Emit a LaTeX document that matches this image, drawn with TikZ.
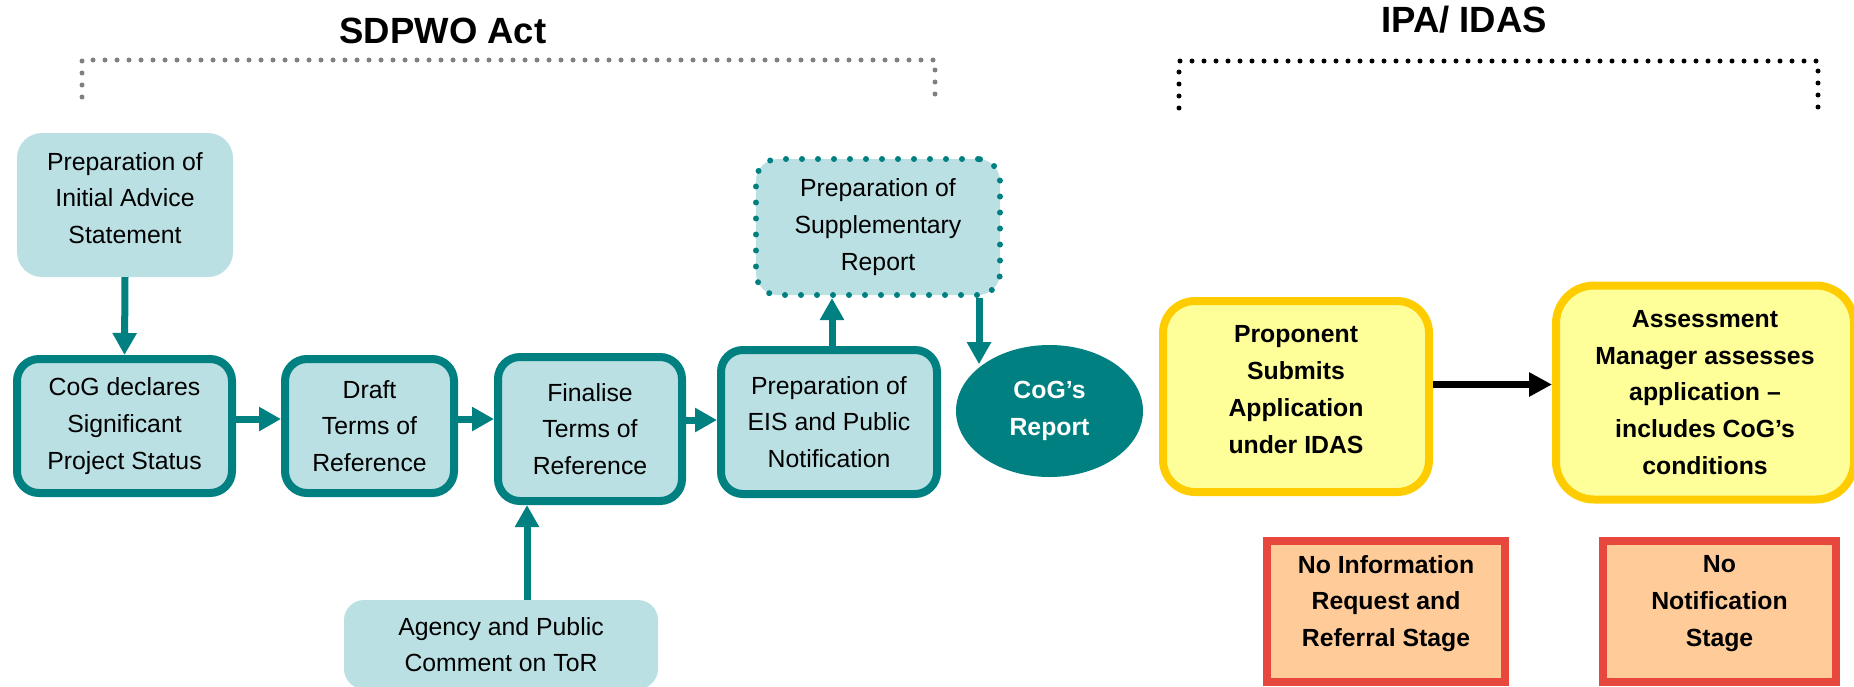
\documentclass[tikz,border=0pt]{standalone}
\usepackage{fontspec}
\setmainfont{Liberation Sans}
\usetikzlibrary{arrows.meta,positioning,shapes.geometric}
\definecolor{tealdark}{HTML}{008080}
\definecolor{tealpale}{HTML}{BBE0E3}
\definecolor{gold}{HTML}{FFCC00}
\definecolor{lemon}{HTML}{FFFF99}
\definecolor{brick}{HTML}{E8473E}
\definecolor{peach}{HTML}{FFCC99}
\definecolor{dotgrey}{HTML}{808080}
\newcommand\stagefont{\fontsize{24.8}{36.7}\selectfont}

\begin{document}
\begin{tikzpicture}[x=1pt,y=-1pt,font=\stagefont,
  pale/.style={fill=tealpale,rounded corners=22pt,align=center,inner sep=0pt},
  stage/.style={pale,draw=tealdark,line width=8pt},
  idas/.style={draw=gold,fill=lemon,line width=8pt,align=center,inner sep=0pt,font=\stagefont\bfseries},
  skipped/.style={draw=brick,fill=peach,line width=8pt,align=center,inner sep=0pt,font=\stagefont\bfseries,text depth=21pt},
  flow/.style={tealdark,line width=7pt,-{Triangle[length=22pt,width=23pt]}},
  bracket/.style={line width=5pt,line cap=round,dash pattern=on 0pt off 12pt}]
\useasboundingbox (0,0) rectangle (1854,686);
% headings and their brackets
\node[font=\fontsize{36.5}{40}\selectfont\bfseries,anchor=base] (sdpwo) at (443,43) {SDPWO Act};
\node[font=\fontsize{36.5}{40}\selectfont\bfseries,anchor=base] (ipa) at (1464,32) {IPA/ IDAS};
\draw[bracket,dotgrey] (82,97) -- (82,60) -- (935,60) -- (935,97);
\draw[bracket,black] (1179,108) -- (1179,61) -- (1818,61) -- (1818,108);
% SDPWO Act steps
\node[pale,rounded corners=25pt,minimum width=216pt,minimum height=144pt,text depth=14pt] (ias) at (125,205)
  {Preparation of\\Initial Advice\\Statement};
\node[stage,minimum width=215pt,minimum height=134pt] (cog) at (124.5,426) {CoG declares\\Significant\\Project Status};
\node[stage,minimum width=169pt,minimum height=134pt] (draft) at (369.5,426) {Draft\\Terms of\\Reference};
\node[stage,minimum width=184pt,minimum height=144pt] (final) at (590,429) {Finalise\\Terms of\\Reference};
\node[stage,minimum width=216pt,minimum height=144pt] (eis) at (829,422) {Preparation of\\EIS and Public\\Notification};
\node[pale,draw=tealdark,line width=6pt,line cap=round,dash pattern=on 0pt off 16pt,
      minimum width=244pt,minimum height=136pt] (supp) at (878,227) {Preparation of\\Supplementary\\Report};
\node[ellipse,fill=tealdark,text=white,font=\stagefont\bfseries,align=center,inner sep=0pt,
      minimum width=187pt,minimum height=132pt] (report) at (1049.5,411) {CoG’s\\Report};
\node[pale,rounded corners=20pt,minimum width=314pt,minimum height=89pt] (agency) at (501,644.5)
  {Agency and Public\\Comment on ToR};
% IDAS steps
\node[idas,rounded corners=32pt,minimum width=266pt,minimum height=191pt,text depth=14pt] (prop) at (1296,396.5)
  {Proponent\\Submits\\Application\\under IDAS};
\node[idas,rounded corners=38pt,minimum width=298pt,minimum height=214pt] (assess) at (1705,392.5)
  {Assessment\\Manager assesses\\application –\\includes CoG’s\\conditions};
\node[skipped,minimum width=238pt,minimum height=141pt] (noinfo) at (1386,611.5)
  {No Information\\Request and\\Referral Stage};
\node[skipped,minimum width=233pt,minimum height=141pt] (nonote) at (1719.5,611.5) {No\\Notification\\Stage};
% connectors
\draw[flow] (ias.south) -- (cog.north);
\draw[flow] ([yshift=7pt]cog.east) -- ([yshift=7pt]cog.east -| draft.west);
\draw[flow] ([yshift=7pt]draft.east) -- ([yshift=7pt]draft.east -| final.west);
\draw[flow] ([yshift=9pt]final.east) -- ([yshift=9pt]final.east -| eis.west);
\draw[flow] ([xshift=3pt]eis.north) -- ([xshift=3pt]eis.north |- supp.south);
\draw[flow] ([xshift=101pt]supp.south) -- ([xshift=101pt]supp.south |- report.north west);
\draw[flow] ([xshift=26pt]agency.north) -- ([xshift=26pt]agency.north |- final.south);
\draw[line width=7pt,-{Triangle[length=23pt,width=23pt]}] ([yshift=12pt]prop.east) -- ([yshift=12pt]prop.east -| assess.west);
\end{tikzpicture}
\end{document}
